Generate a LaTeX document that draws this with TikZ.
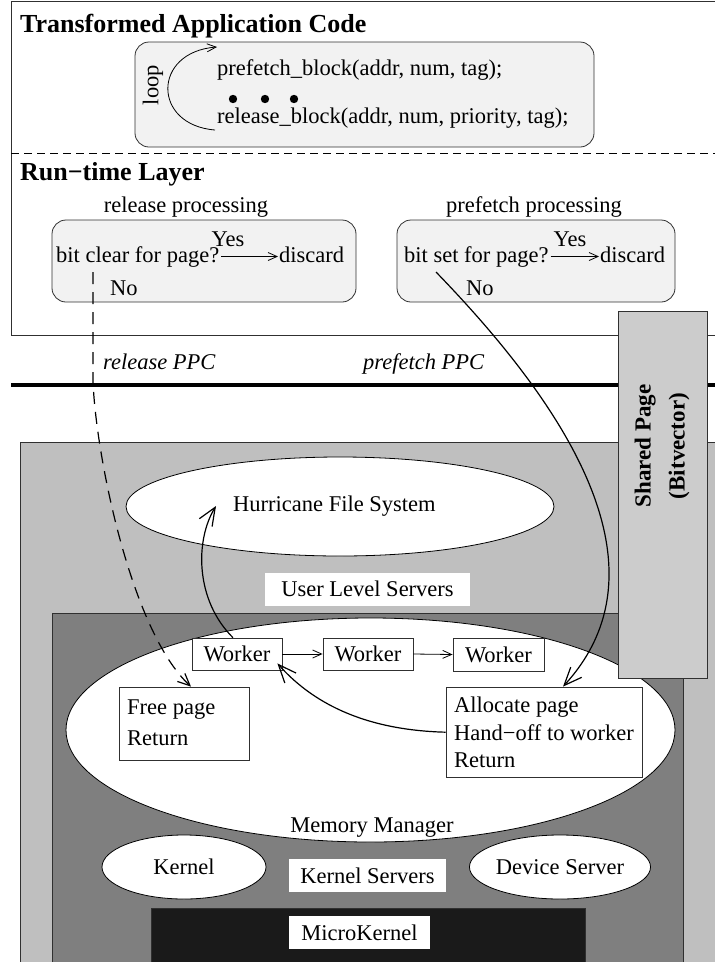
\documentclass[tikz,border=0pt]{standalone}
\usepackage{fontspec}
\setmainfont{Liberation Serif}
\usetikzlibrary{arrows.meta,shapes.geometric}
\definecolor{panelfill}{HTML}{F2F2F2}
\definecolor{userlvl}{HTML}{BFBFBF}
\definecolor{kernlvl}{HTML}{7F7F7F}
\definecolor{sharedfill}{HTML}{CCCCCC}
\definecolor{microfill}{HTML}{1A1A1A}
\definecolor{edge}{HTML}{303030}
\begin{document}
\begin{tikzpicture}[x=1pt,y=-1pt,
  every node/.style={font=\fontsize{22.5}{27}\selectfont, inner sep=0pt},
  title/.style={font=\fontsize{26}{30}\selectfont\bfseries, anchor=base west},
  txt/.style={anchor=base west},
  panel/.style={draw=edge, line width=0.8pt, rounded corners=14pt, fill=panelfill},
  plainbox/.style={draw=edge, line width=0.8pt, fill=white},
  tagbox/.style={fill=white, minimum height=33pt},
  oval/.style={draw=black, ellipse, fill=white, line width=0.8pt},
  region/.style={draw=edge, line width=0.8pt},
  small/.style={-{Straight Barb[length=9pt,width=8pt]}, line width=0.8pt},
  big/.style={-{Straight Barb[length=18pt,width=15pt]}, line width=1.2pt},
]
\useasboundingbox (0,0) rectangle (715,962);

% ---------- application layer ----------
\draw[line width=0.8pt, draw=edge] (730,1) -- (11,1) -- (11,335) -- (730,335);
\draw[line width=0.8pt, dash pattern=on 8pt off 5pt] (11,153) -- (715,153);
\node[title] (apptitle) at (20,32) {Transformed Application Code};
\node[panel, minimum width=459pt, minimum height=105pt] (code) at (364.5,94.5) {};
\node[rotate=90] (loop) at (153,85) {loop};
\draw[-{Straight Barb[length=9pt,width=8pt]}, line width=0.8pt]
  (215,130) .. controls (152,125) and (152,52) .. (217,47);
\node[txt] (pf) at (217,75) {prefetch\_block(addr, num, tag);};
\fill (233,99) circle (4.2pt) (265,99) circle (4.2pt) (294,99) circle (4.2pt);
\node[txt] (rb) at (217,123) {release\_block(addr, num, priority, tag);};

% ---------- run-time layer ----------
\node[title] (rttitle) at (20,180) {Run−time Layer};
\node (relhead) at (186,207) {release processing};
\node (pfhead) at (534,207) {prefetch processing};
\node[panel, minimum width=304pt, minimum height=82pt] (relbox) at (204,261) {};
\node[panel, minimum width=278pt, minimum height=82pt] (pfbox) at (536,261) {};

\node[txt] (q1) at (56,262) {bit clear for page?};
\node[anchor=base] (yes1) at (228,246) {Yes};
\node[txt] (d1) at (279,262) {discard};
\node[txt] (no1) at (110,295) {No};
\draw[small, shorten <=2pt, shorten >=1pt] (q1.east) -- (q1.east -| d1.west);

\node[txt] (q2) at (404,262) {bit set for page?};
\node[anchor=base] (yes2) at (570,246) {Yes};
\node[txt] (d2) at (600,262) {discard};
\node[txt] (no2) at (466,295) {No};
\draw[small, shorten <=2pt, shorten >=1pt] (q2.east) -- (q2.east -| d2.west);

% ---------- PPC boundary ----------
\node[txt, font=\fontsize{22.5}{27}\selectfont\itshape] (relppc) at (103,369) {release PPC};
\node[txt, font=\fontsize{22.5}{27}\selectfont\itshape] (pfppc) at (363,369) {prefetch PPC};
\draw[line width=3.5pt] (11,385) -- (715,385);

% ---------- system layers ----------
\draw[region, fill=userlvl] (20,442) rectangle (730,980);
\node[oval, minimum width=428pt, minimum height=99pt] (hfs) at (340,506.5) {};
\node[anchor=west] (hfslabel) at (233,506) {Hurricane File System};
\node[tagbox, minimum width=205pt] (uls) at (367.5,589) {User Level Servers};

\draw[region, fill=kernlvl] (52,613) rectangle (683,980);
\node[oval, minimum width=609pt, minimum height=224pt] (mm) at (370.5,730) {};
\node (mmlabel) at (372,828) {Memory Manager};

\node[plainbox, minimum width=90pt, minimum height=32pt] (w1) at (237,654) {Worker};
\node[plainbox, minimum width=90pt, minimum height=32pt] (w2) at (368,654) {Worker};
\node[plainbox, minimum width=91pt, minimum height=33pt] (w3) at (498.5,654.5) {Worker};
\draw[small] (w1.east) -- (w2.west);
\draw[small] (w2.east) -- (w3.west);

\node[plainbox, minimum width=130pt, minimum height=73pt] (free) at (184,723.5) {};
\node[txt] (freel1) at (127,714) {Free page};
\node[txt] (freel2) at (127,745) {Return};

\node[plainbox, minimum width=196pt, minimum height=90pt] (alloc) at (544,732) {};
\node[txt] (alloc1) at (454,712) {Allocate page};
\node[txt] (handoff) at (454,740) {Hand−off to worker};
\node[txt] (alloc3) at (454,767) {Return};

\node[oval, minimum width=164pt, minimum height=64pt] (kern) at (184,867) {Kernel};
\node[oval, minimum width=164pt, minimum height=64pt] (dev) at (560,867) {Device Server};
\node[tagbox, minimum width=157pt] (ks) at (367.5,875.5) {Kernel Servers};

\draw[region, fill=microfill] (151,908) rectangle (585,980);
\node[tagbox, minimum width=141pt] (mk) at (359.5,932.5) {MicroKernel};

% ---------- shared page ----------
\node[draw=edge, line width=0.8pt, fill=sharedfill, minimum width=89pt, minimum height=367pt] (shared) at (662.5,494.5) {};
\node[rotate=90, align=center, font=\fontsize{23}{34}\selectfont\bfseries] (sharedlabel) at (662,446) {Shared Page\\(Bitvector)};

% ---------- control flow ----------
\coordinate (relstart) at (93,272);
\coordinate (pfstart) at (436,272);
\draw[-{Straight Barb[length=12pt,width=11pt]}, line width=1.2pt, dash pattern=on 12pt off 8pt]
  (relstart) -- (93,380) .. controls (95,450) and (130,630) .. ([xshift=7pt]free.north);
\draw[big] (pfstart) .. controls (560,400) and (675,565) .. ([xshift=19pt]alloc.north);
\draw[big] (alloc.west |- handoff) .. controls (360,730) and (310,700) .. ([shift={(-5pt,7pt)}]w1.south east);
\draw[big] (w1.104) .. controls (195,600) and (195,540) .. ([xshift=-17pt]hfslabel.west);
\end{tikzpicture}
\end{document}
